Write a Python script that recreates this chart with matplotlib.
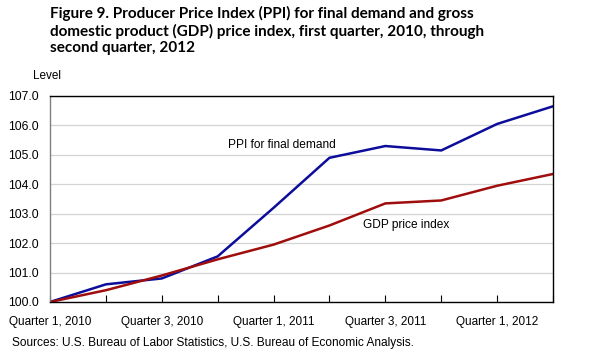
import matplotlib
matplotlib.use("Agg")
import matplotlib.pyplot as plt

quarters = ["Quarter 1, 2010", "Quarter 2, 2010", "Quarter 3, 2010", "Quarter 4, 2010",
            "Quarter 1, 2011", "Quarter 2, 2011", "Quarter 3, 2011", "Quarter 4, 2011",
            "Quarter 1, 2012", "Quarter 2, 2012"]
ppi = [100.0, 100.6, 100.8, 101.55, 103.2, 104.9, 105.3, 105.15, 106.05, 106.65]
gdp = [100.0, 100.4, 100.9, 101.45, 101.95, 102.6, 103.35, 103.45, 103.95, 104.35]
y_ticks = [100.0, 101.0, 102.0, 103.0, 104.0, 105.0, 106.0, 107.0]

title = ("Figure 9. Producer Price Index (PPI) for final demand and gross\n"
         "domestic product (GDP) price index, first quarter, 2010, through\n"
         "second quarter, 2012")

plt.rcParams["font.family"] = ["Liberation Sans", "DejaVu Sans"]

fig = plt.figure(figsize=(6.05, 3.64), dpi=100)
fig.patch.set_facecolor("white")
ax = fig.add_axes([50 / 605, 1 - 302 / 364, 503 / 605, 206 / 364])

x = list(range(len(quarters)))
ax.plot(x, ppi, color="#0d0d9c", linewidth=1.8, solid_joinstyle="round")
ax.plot(x, gdp, color="#a00d0d", linewidth=1.8, solid_joinstyle="round")

ax.set_xlim(0, len(quarters) - 1)
ax.set_ylim(100, 107)
ax.set_yticks(y_ticks)
ax.set_yticklabels([f"{v:.1f}" for v in y_ticks], fontsize=8.8)
ax.set_xticks(x)
ax.set_xticklabels([q if i % 2 == 0 else "" for i, q in enumerate(quarters)], fontsize=8.5)
ax.tick_params(axis="y", length=0, pad=8)
ax.tick_params(axis="x", direction="in", length=5, width=0.8, pad=10)
ax.grid(axis="y", color="#d4d4d4", linewidth=0.9)
ax.set_axisbelow(True)

for side in ["top", "right", "bottom"]:
    ax.spines[side].set_color("black")
    ax.spines[side].set_linewidth(1.0)
ax.spines["left"].set_color("#808080")
ax.spines["left"].set_linewidth(1.0)

ax.text(4.15, 105.35, "PPI for final demand", fontsize=8.6, ha="center", va="center")
ax.text(6.37, 102.6, "GDP price index", fontsize=8.6, ha="center", va="center")

fig.text(50 / 605, 1 - 6 / 364, title, fontsize=11.0, fontweight="bold",
         family=["Lato", "DejaVu Sans"], ha="left", va="top", linespacing=1.2)
fig.text(33 / 605, 1 - 76 / 364, "Level", fontsize=8.5, ha="left", va="center")
fig.text(12 / 605, 1 - 343 / 364, "Sources: U.S. Bureau of Labor Statistics, U.S. Bureau of Economic Analysis.",
         fontsize=8.6, ha="left", va="center")

fig.savefig("out.png", dpi=100, facecolor="white")
